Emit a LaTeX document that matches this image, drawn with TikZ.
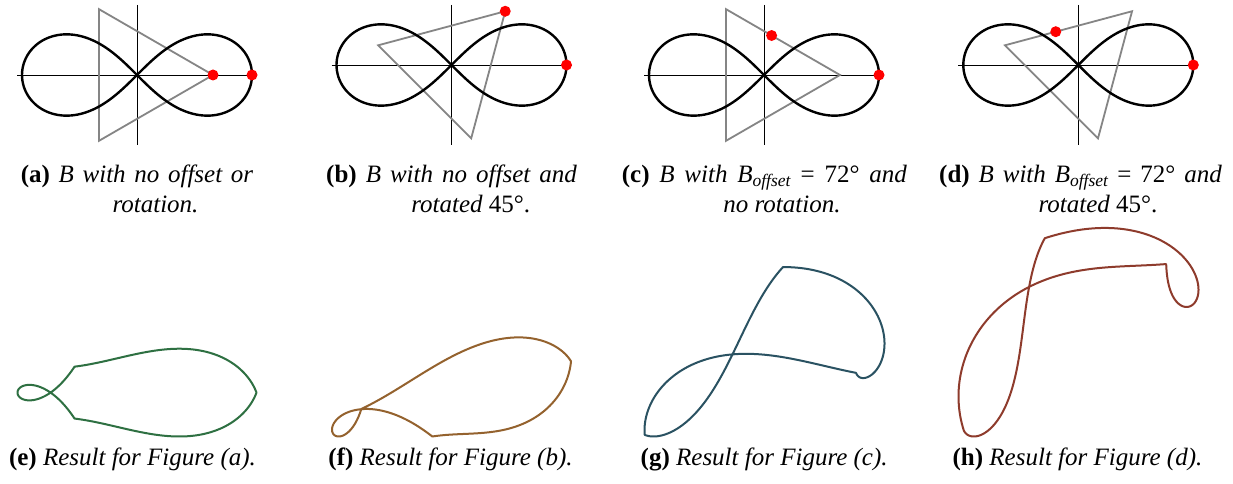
\documentclass[tikz,border=0pt]{standalone}
\usepackage{fontspec}
\setmainfont{Liberation Serif}
\begin{document}
\begin{tikzpicture}[x=1pt,y=1pt,
  declare function={
    lx(\t)=115*cos(360*\t)/(1+sin(360*\t)^2);
    ly(\t)=115*sin(360*\t)*cos(360*\t)/(1+sin(360*\t)^2);
    tk(\t,\o)=floor(3*mod(\t+\o,1));
    tf(\t,\o)=3*mod(\t+\o,1)-floor(3*mod(\t+\o,1));
    tx(\t,\o,\r)=76*((1-tf(\t,\o))*cos(120*tk(\t,\o)+\r)+tf(\t,\o)*cos(120*tk(\t,\o)+120+\r));
    ty(\t,\o,\r)=76*((1-tf(\t,\o))*sin(120*tk(\t,\o)+\r)+tf(\t,\o)*sin(120*tk(\t,\o)+120+\r));
  },
  axisline/.style={black,line width=0.9pt},
  triline/.style={draw=black!48,line width=1.8pt,line join=miter},
  lemline/.style={black,line width=2.4pt},
  reddot/.style={fill=red},
  curveline/.style={line width=2pt,line join=round},
  captext/.style={inner sep=0pt,font=\fontsize{25}{30}\selectfont},
]
\definecolor{cgreen}{RGB}{46,112,66}
\definecolor{cbrown}{RGB}{148,98,46}
\definecolor{cteal}{RGB}{42,82,98}
\definecolor{cbrick}{RGB}{142,59,44}
\fill[white] (0,0) rectangle (1233,484);
\useasboundingbox (0,0) rectangle (1233,484);

\newcommand\toppanel[5]{% cx, cY, rot, offset
  \draw[axisline] (#1,479) -- (#1,339);
  \begin{scope}[shift={(#1,#2)}]
    \draw[axisline] (-120,0) -- (120,0);
    \draw[triline] (#3:76) -- (#3+120:76) -- (#3+240:76) -- cycle;
    \draw[lemline] plot[domain=0:360,samples=241,smooth,variable=\u]
      ({115*cos(\u)/(1+sin(\u)^2)},{115*sin(\u)*cos(\u)/(1+sin(\u)^2)}) -- cycle;
    \fill[reddot] (115,0) circle (5.5);
    \fill[reddot] ({tx(0,#4,#3)},{ty(0,#4,#3)}) circle (5.5);
  \end{scope}}

\newcommand\botcurve[5]{% offset, rot, left, width, colour
  \gdef\bxmin{1000}\gdef\bxmax{-1000}\gdef\bymin{1000}%
  \foreach \i in {0,...,360}{%
    \pgfmathsetmacro\myT{\i/360}%
    \pgfmathsetmacro\myX{lx(\myT)+tx(\myT,#1,#2)}%
    \pgfmathsetmacro\myY{ly(\myT)+ty(\myT,#1,#2)}%
    \pgfmathsetmacro\myA{min(\bxmin,\myX)}\xdef\bxmin{\myA}%
    \pgfmathsetmacro\myA{max(\bxmax,\myX)}\xdef\bxmax{\myA}%
    \pgfmathsetmacro\myA{min(\bymin,\myY)}\xdef\bymin{\myA}%
  }%
  \pgfmathsetmacro\bsc{#4/(\bxmax-\bxmin)}%
  \draw[#5,curveline] plot[domain=0:1,samples=361]
    ({#3+\bsc*(lx(\x)+tx(\x,#1,#2)-\bxmin)},{47.5+\bsc*(ly(\x)+ty(\x,#1,#2)-\bymin)}) -- cycle;
}

% top panels
\toppanel{137}{409}{0}{0}{}
\toppanel{451.5}{419}{45}{0}{}
\toppanel{764}{409}{0}{0.2}{}
\toppanel{1078.3}{419}{45}{0.2}{}

% bottom curves
\botcurve{0}{0}{17.5}{239}{cgreen}
\botcurve{0}{45}{332}{239}{cbrown}
\botcurve{0.2}{0}{644.5}{240}{cteal}
\botcurve{0.2}{45}{958.5}{240}{cbrick}

% captions top
\node[captext,anchor=base west] (capa1) at (20.7,301) {\hbox to 232.3pt{\textbf{(a)} \textit{B with no offset or}}};
\node[captext,anchor=base] (capa2) at (155.5,271) {\textit{rotation.}};
\node[captext,anchor=base west] (capb1) at (326,301) {\hbox to 250.7pt{\textbf{(b)} \textit{B with no offset and}}};
\node[captext,anchor=base] (capb2) at (470.8,271) {\textit{rotated} 45°.};
\node[captext,anchor=base west] (capc1) at (621.7,301) {\hbox to 285pt{\textbf{(c)} \textit{B with B\textsubscript{offset}} = 72° \textit{and}}};
\node[captext,anchor=base] (capc2) at (782,271) {\textit{no rotation.}};
\node[captext,anchor=base west] (capd1) at (939,301) {\hbox to 282.7pt{\textbf{(d)} \textit{B with B\textsubscript{offset}} = 72° \textit{and}}};
\node[captext,anchor=base] (capd2) at (1098,271) {\textit{rotated} 45°.};

% captions bottom
\node[captext,anchor=base] (cape) at (132.5,18) {\textbf{(e)} \textit{Result for Figure (a).}};
\node[captext,anchor=base] (capf) at (450.5,18) {\textbf{(f)} \textit{Result for Figure (b).}};
\node[captext,anchor=base] (capg) at (764.2,18) {\textbf{(g)} \textit{Result for Figure (c).}};
\node[captext,anchor=base] (caph) at (1077.5,18) {\textbf{(h)} \textit{Result for Figure (d).}};
\end{tikzpicture}
\end{document}
